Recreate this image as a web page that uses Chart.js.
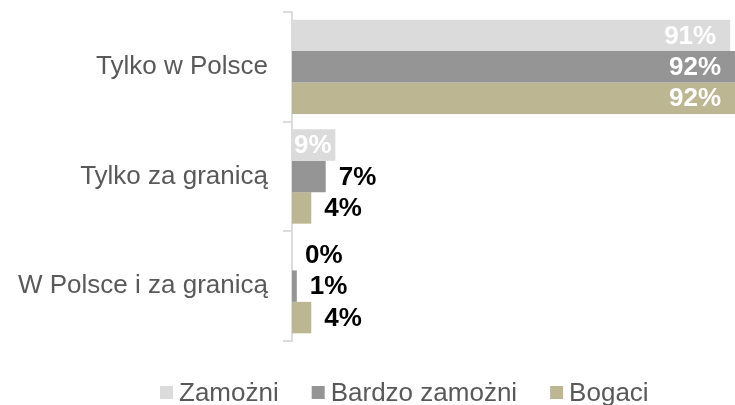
<!DOCTYPE html>
<html>
<head>
<meta charset="utf-8">
<script src="https://cdn.jsdelivr.net/npm/chart.js@4"></script>
<style>
  html, body { margin: 0; padding: 0; background: #fff; }
  #wrap { width: 735px; height: 405px; }
</style>
</head>
<body>
<div id="wrap"><canvas id="chart" width="735" height="405"></canvas></div>
<script>
const categories = ["Tylko w Polsce", "Tylko za granicą", "W Polsce i za granicą"];
const seriesNames = ["Zamożni", "Bardzo zamożni", "Bogaci"];
const zamozni = [91, 9, 0];
const bardzoZamozni = [92, 7, 1];
const bogaci = [92, 4, 4];
const colors = ["#dadbda", "#959595", "#bdb692"];

const FONT = "'Liberation Sans', Arial, sans-serif";

// etykiety wartosci na slupkach
const valueLabels = {
    id: "valueLabels",
    afterDatasetsDraw(chart) {
        const ctx = chart.ctx;
        ctx.save();
        ctx.font = "bold 26px " + FONT;
        ctx.textBaseline = "middle";
        chart.data.datasets.forEach((ds, i) => {
            const meta = chart.getDatasetMeta(i);
            meta.data.forEach((bar, j) => {
                const v = ds.data[j];
                const txt = v + "%";
                const w = ctx.measureText(txt).width;
                if (v >= 9) {
                    ctx.fillStyle = "#ffffff";
                    ctx.textAlign = "right";
                    const x = Math.max(bar.base + w + 2, bar.x - 14);
                    ctx.fillText(txt, x, bar.y + 1);
                } else {
                    ctx.fillStyle = "#000000";
                    ctx.textAlign = "left";
                    ctx.fillText(txt, bar.x + 13, bar.y + 1);
                }
            });
        });
        ctx.restore();
    }
};

// legenda rysowana recznie (mniejszy odstep kwadrat-tekst)
const bottomLegend = {
    id: "bottomLegend",
    afterDraw(chart) {
        const ctx = chart.ctx;
        ctx.save();
        ctx.font = "26px " + FONT;
        ctx.textBaseline = "alphabetic";
        ctx.textAlign = "left";
        let x = 160;
        const baseY = 401;
        chart.data.datasets.forEach((ds) => {
            ctx.fillStyle = ds.backgroundColor;
            ctx.fillRect(x, 386, 13, 13);
            x += 13 + 6;
            ctx.fillStyle = "#595959";
            ctx.fillText(ds.label, x, baseY);
            x += ctx.measureText(ds.label).width + 33;
        });
        ctx.restore();
    }
};

const seriesData = [zamozni, bardzoZamozni, bogaci];

new Chart(document.getElementById("chart").getContext("2d"), {
    type: "bar",
    data: {
        labels: categories,
        datasets: seriesNames.map((name, i) => ({
            label: name,
            data: seriesData[i],
            backgroundColor: colors[i],
            borderWidth: 0,
            categoryPercentage: 0.86,
            barPercentage: 1.0,
        })),
    },
    options: {
        indexAxis: "y",
        responsive: false,
        animation: false,
        layout: { padding: { top: 12, bottom: 64, left: 0, right: 0 } },
        plugins: {
            legend: { display: false },
            tooltip: { enabled: false },
        },
        scales: {
            x: {
                display: false,
                min: 0,
                max: 92,
            },
            y: {
                afterFit(scale) {
                    scale.width = 292;
                    scale.paddingTop = 0;
                    scale.paddingBottom = 0;
                },
                grid: {
                    drawOnChartArea: false,
                    drawTicks: true,
                    tickLength: 9,
                    color: "#dcdcdc",
                    lineWidth: 2,
                },
                border: { display: true, color: "#dcdcdc", width: 2 },
                ticks: {
                    color: "#595959",
                    padding: 15,
                    font: { family: FONT, size: 26 },
                },
            },
        },
    },
    plugins: [valueLabels, bottomLegend],
});
</script>
</body>
</html>
